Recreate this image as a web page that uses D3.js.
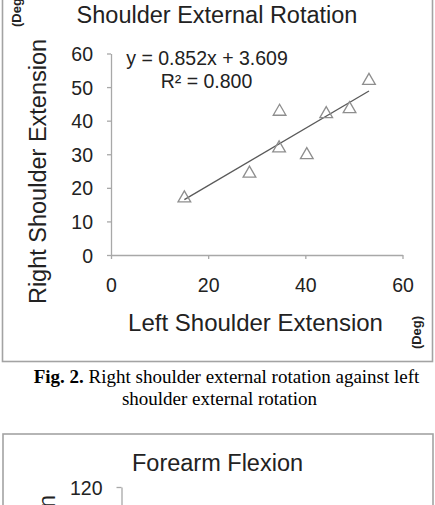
<!DOCTYPE html>
<html>
<head>
<meta charset="utf-8">
<script src="https://cdn.jsdelivr.net/npm/d3@7"></script>
<style>
  html, body { margin: 0; padding: 0; background: #fff; }
  svg { display: block; }
</style>
</head>
<body>
<svg id="chart" width="435" height="505"></svg>
<script>
// ---- Data ----
const leftExtension  = [15.1, 28.5, 34.7, 34.6, 40.3, 44.3, 49.1, 53.1];
const rightExtension = [16.9, 24.3, 42.7, 31.8, 29.8, 42.0, 43.5, 51.9];
const trendSlope = 0.852;
const trendIntercept = 3.609;
const rSquared = 0.800;
const xTicks = [0, 20, 40, 60];
const yTicks = [0, 10, 20, 30, 40, 50, 60];
const chart2YTicks = [0, 20, 40, 60, 80, 100, 120];

const sans = '"Liberation Sans", Arial, sans-serif';
const serif = '"Liberation Serif", "Times New Roman", serif';
const W = 435, H = 505;

const svg = d3.select("#chart").style("font-family", sans);
const frameColor = "#a3a3a3";
const axisColor = "#a8a8a8";
const textColor = "#222222";

// ---- Frames ----
svg.append("rect").attr("x", 2.5).attr("y", -10).attr("width", 430).attr("height", 371.5)
  .attr("fill", "none").attr("stroke", frameColor).attr("stroke-width", 1.6);
svg.append("rect").attr("x", 3).attr("y", 434).attr("width", 430).attr("height", 120)
  .attr("fill", "none").attr("stroke", frameColor).attr("stroke-width", 1.6);

// ---- Chart 1 ----
const x = d3.scaleLinear().domain([0, 60]).range([111, 402.5]);
const y = d3.scaleLinear().domain([0, 60]).range([255, 53.5]);

svg.append("text").attr("x", 217).attr("y", 22.5).attr("text-anchor", "middle")
  .style("font-family", sans).attr("font-size", 23.5).attr("fill", textColor)
  .text("Shoulder External Rotation");

const gy = svg.append("g").attr("transform", `translate(${x(0)},0)`)
  .call(d3.axisLeft(y).tickValues(yTicks).tickSize(4).tickSizeOuter(0).tickPadding(14));
const gx = svg.append("g").attr("transform", `translate(0,${y(0)})`)
  .call(d3.axisBottom(x).tickValues(xTicks).tickSize(4).tickSizeOuter(0).tickPadding(19));
[gy, gx].forEach(g => {
  g.selectAll("path, line").attr("stroke", axisColor).attr("stroke-width", 1.3);
  g.selectAll("text").attr("font-size", 19.5).attr("fill", textColor)
    .style("font-family", sans);
});
gy.selectAll("text").attr("dy", "0.36em");

// trend line
const xMin = d3.min(leftExtension), xMax = d3.max(leftExtension);
svg.append("line")
  .attr("x1", x(xMin)).attr("y1", y(trendSlope * xMin + trendIntercept))
  .attr("x2", x(xMax)).attr("y2", y(trendSlope * xMax + trendIntercept))
  .attr("stroke", "#5a5a5a").attr("stroke-width", 1.3);

// triangles
const tri = d3.symbol().type(d3.symbolTriangle).size(70);
svg.append("g").selectAll("path").data(leftExtension).join("path")
  .attr("d", tri)
  .attr("transform", (d, i) => `translate(${x(d)},${y(rightExtension[i])})`)
  .attr("fill", "none").attr("stroke", "#8e8e8e").attr("stroke-width", 1.3);

// equation
svg.append("text").attr("x", 207).attr("y", 65).attr("text-anchor", "middle")
  .style("font-family", sans).attr("font-size", 19.5).attr("fill", textColor)
  .text(`y = ${trendSlope.toFixed(3)}x + ${trendIntercept.toFixed(3)}`);
svg.append("text").attr("x", 206.5).attr("y", 87.5).attr("text-anchor", "middle")
  .style("font-family", sans).attr("font-size", 19.5).attr("fill", textColor)
  .text(`R² = ${rSquared.toFixed(3)}`);

// axis titles
svg.append("text").attr("transform", "translate(45.5,171.5) rotate(-90)")
  .attr("text-anchor", "middle").style("font-family", sans).attr("font-size", 23.5)
  .attr("fill", textColor).text("Right Shoulder Extension");
svg.append("text").attr("x", 255.5).attr("y", 331).attr("text-anchor", "middle")
  .style("font-family", sans).attr("font-size", 24).attr("fill", textColor)
  .text("Left Shoulder Extension");

// units
svg.append("text").attr("transform", "translate(21,27) rotate(-90)")
  .attr("text-anchor", "start").style("font-family", sans).attr("font-size", 13)
  .attr("font-weight", "bold").attr("fill", textColor).text("(Deg)");
svg.append("text").attr("transform", "translate(420.5,332.5) rotate(-90)")
  .attr("text-anchor", "middle").style("font-family", sans).attr("font-size", 13)
  .attr("font-weight", "bold").attr("fill", textColor).text("(Deg)");

// caption
const cap1 = svg.append("text").attr("x", 226.5).attr("y", 382.5).attr("text-anchor", "middle")
  .style("font-family", serif).attr("font-size", 19).attr("fill", "#000");
cap1.append("tspan").attr("font-weight", "bold").text("Fig. 2.");
cap1.append("tspan").text(" Right shoulder external rotation against left");
svg.append("text").attr("x", 219.5).attr("y", 405).attr("text-anchor", "middle")
  .style("font-family", serif).attr("font-size", 19).attr("fill", "#000")
  .text("shoulder external rotation");

// ---- Chart 2 (partially visible, cut by the picture edge) ----
svg.append("text").attr("x", 217.5).attr("y", 470.5).attr("text-anchor", "middle")
  .style("font-family", sans).attr("font-size", 23.5).attr("fill", textColor)
  .text("Forearm Flexion");
const y2 = d3.scaleLinear().domain([0, 120]).range([687, 487]);
const visibleTicks2 = chart2YTicks.filter(t => y2(t) < H - 8);
const gy2 = svg.append("g").attr("transform", "translate(121.5,0)")
  .call(d3.axisLeft(y2).tickValues(visibleTicks2).tickSize(5).tickSizeOuter(0).tickPadding(14));
gy2.selectAll("path, line").attr("stroke", axisColor).attr("stroke-width", 1.3);
gy2.selectAll("text").attr("font-size", 19.5).attr("fill", textColor)
  .style("font-family", sans).attr("dy", "0.36em");
svg.append("text").attr("transform", "translate(55,495) rotate(-90)")
  .attr("text-anchor", "end").style("font-family", sans).attr("font-size", 23.5)
  .attr("fill", textColor).text("Right Forearm Flexion");
</script>
</body>
</html>
